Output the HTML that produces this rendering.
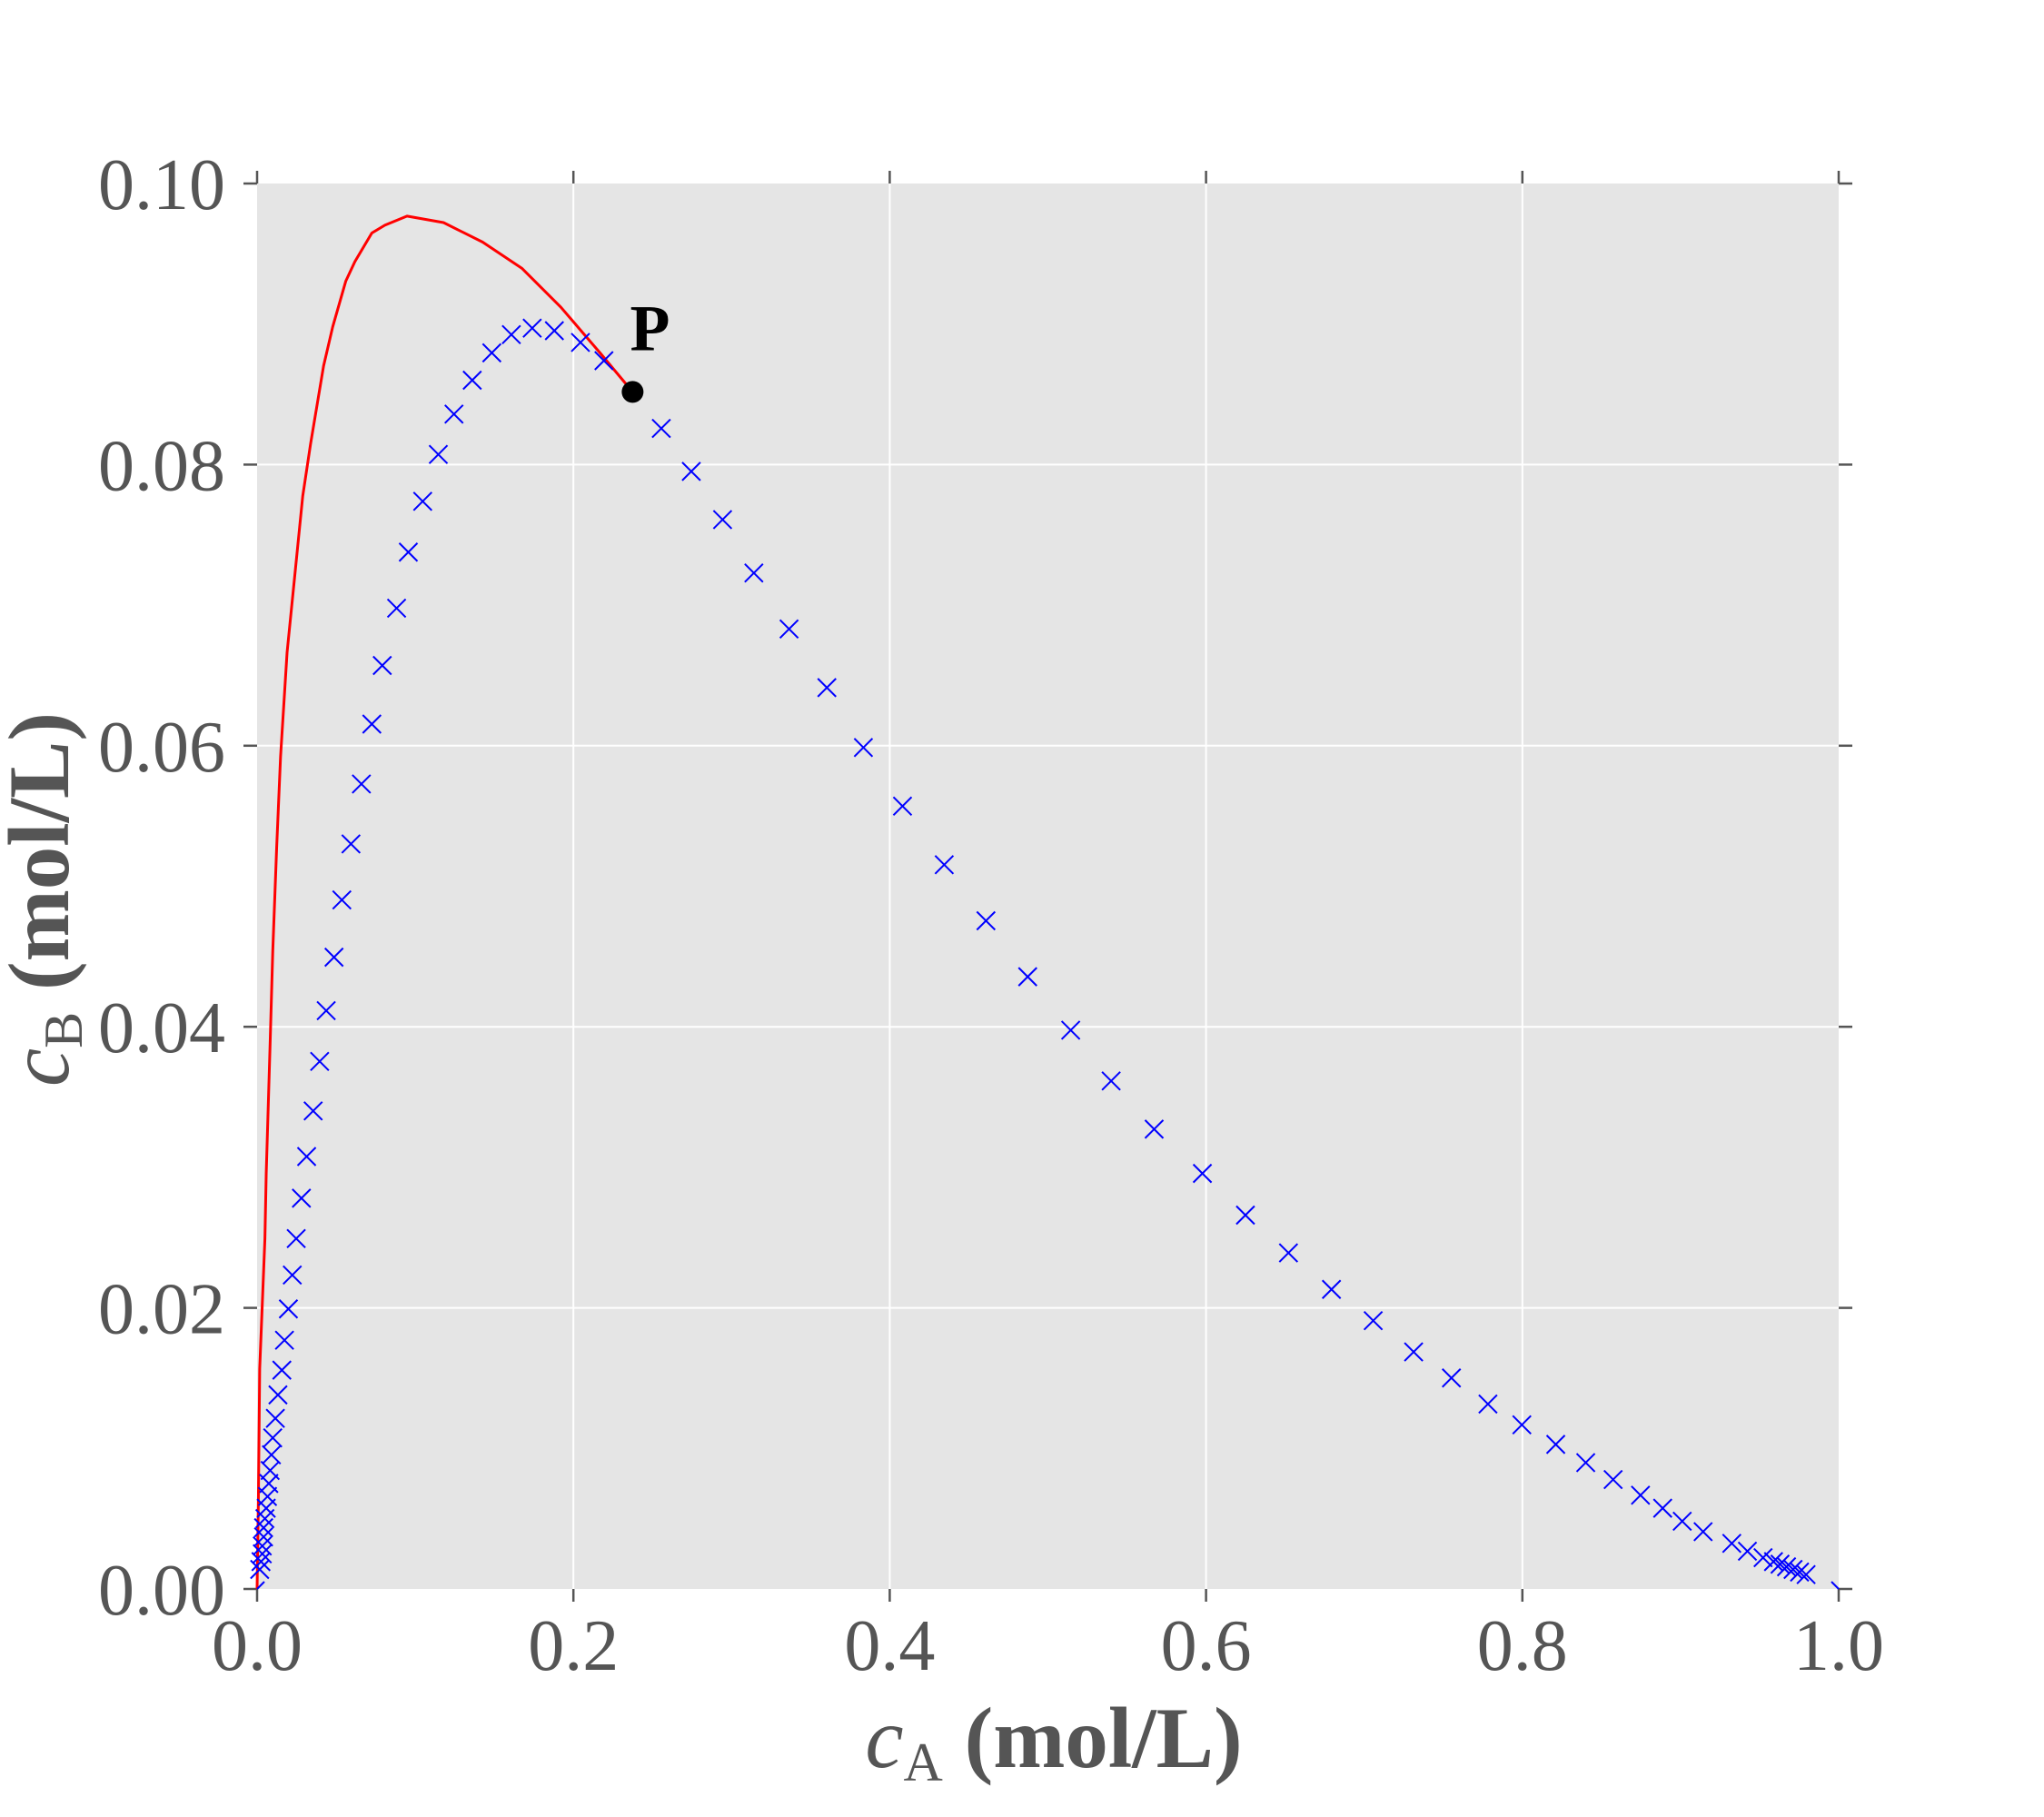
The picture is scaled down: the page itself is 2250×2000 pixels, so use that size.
<!DOCTYPE html>
<html><head><meta charset="utf-8"><style>
html,body{margin:0;padding:0;background:#fff;}
svg{display:block;}
text{font-family:"Liberation Serif",serif;}
</style></head><body>
<svg id="s" width="2250" height="2000" xmlns="http://www.w3.org/2000/svg">
<rect x="283" y="202" width="1741" height="1547" fill="#e5e5e5"/>
<g id="grid" stroke="#fff" stroke-width="2"></g>
<g id="ticks" stroke="#555" stroke-width="2.5"></g>
<g id="labels" fill="#555" font-size="80"></g>
<polyline id="red" fill="none" stroke="#ff0000" stroke-width="3" stroke-linejoin="round"/>
<g id="crosses" stroke="#0000ff" stroke-width="2"></g>
<circle id="pt" r="12" fill="#000"/>
<text id="plabel" font-size="72" font-weight="bold" fill="#000">P</text>
<text x="1160" y="1945" text-anchor="middle" font-size="95" font-weight="bold" fill="#555"><tspan font-style="italic" font-weight="normal">c</tspan><tspan font-size="60" font-weight="normal" dy="15">A</tspan><tspan dy="-15"> (mol/L)</tspan></text>
<text transform="translate(75,990) rotate(-90)" text-anchor="middle" font-size="95" font-weight="bold" fill="#555"><tspan font-style="italic" font-weight="normal">c</tspan><tspan font-size="60" font-weight="normal" dy="15">B</tspan><tspan dy="-15"> (mol/L)</tspan></text>
</svg>
<script>
var NS="http://www.w3.org/2000/svg";
function X(d){return 283+(d-197)*1741/1213;}
function Y(d){return 1749-(1219-d)*1547/1079;}
function el(p,t,a){var e=document.createElementNS(NS,t);for(var k in a)e.setAttribute(k,a[k]);document.getElementById(p).appendChild(e);return e;}
for(var i=0;i<=5;i++){
 var x=283+i*1741/5, y=1749-i*1547/5;
 if(i>0&&i<5){el("grid","line",{x1:x,y1:202,x2:x,y2:1749});el("grid","line",{x1:283,y1:y,x2:2024,y2:y});}
 el("ticks","line",{x1:x,y1:1749,x2:x,y2:1763});el("ticks","line",{x1:x,y1:202,x2:x,y2:188});
 el("ticks","line",{x1:283,y1:y,x2:268,y2:y});el("ticks","line",{x1:2024,y1:y,x2:2039,y2:y});
 var t=el("labels","text",{x:x,y:1838,"text-anchor":"middle"});t.textContent=(i*0.2).toFixed(1);
 var t2=el("labels","text",{x:248,y:y+28,"text-anchor":"end"});t2.textContent=(i*0.02).toFixed(2);
}
var red=[[197,1219],[198,1150],[199,1050],[201,1000],[203,950],[204,900],[207,800],[209,730],[212,650],[215,580],[220,500],[225,450],[232,380],[238,340],[248,280],[255,250],[265,215],[272,200],[285,178],[295,172],[312,165],[340,170],[370,185],[400,205],[430,235],[460,270],[485,300]];
document.getElementById("red").setAttribute("points",red.map(function(p){return X(p[0])+","+Y(p[1]);}).join(" "));
var cr=[[1385,1208],[1380,1206],[1375,1204],[1370,1202],[1365,1200],[1360,1198],[1352,1195],[1340,1190],[1328,1184],[1306,1175],[1290,1167],[1275,1157],[1258,1147],[1237,1135],[1216,1122],[1193,1108],[1167,1093],[1141,1077],[1113,1057],[1084,1037],[1053,1013],[1021,989],[988,961],[955,932],[922,900],[885,866],[852,829],[821,790],[788,749],[756,706],[724,663],[692,618],[662,573],[634,527],[605,482],[578,439],[554,398],[530,361],[507,328],[463,276],[445,262],[425,253],[408,251],[392,256],[377,270],[362,291],[348,317],[336,348],[324,384],[313,423],[304,466],[293,510],[285,555],[277,601],[269,647],[262,690],[256,734],[250,775],[245,814],[240,852],[235,887],[231,919],[227,950],[224,978],[221,1004],[218,1028],[216,1051],[213,1070],[211,1088],[209,1103],[208,1116],[207,1128],[206,1138],[205,1148],[204,1157],[203,1165],[202,1172],[202,1179],[201,1186],[201,1192],[200,1198],[199,1204]];
cr.forEach(function(p){var x=X(p[0]),y=Y(p[1]),s=10;
 el("crosses","line",{x1:x-s,y1:y-s,x2:x+s,y2:y+s});el("crosses","line",{x1:x-s,y1:y+s,x2:x+s,y2:y-s});});
el("crosses","line",{x1:283,y1:1749,x2:291,y2:1741});
el("crosses","line",{x1:2024,y1:1749,x2:2016,y2:1741});
var pt=document.getElementById("pt");pt.setAttribute("cx",X(485));pt.setAttribute("cy",Y(300));
var pl=document.getElementById("plabel");pl.setAttribute("x",X(483));pl.setAttribute("y",Y(268));
</script>
</body></html>
